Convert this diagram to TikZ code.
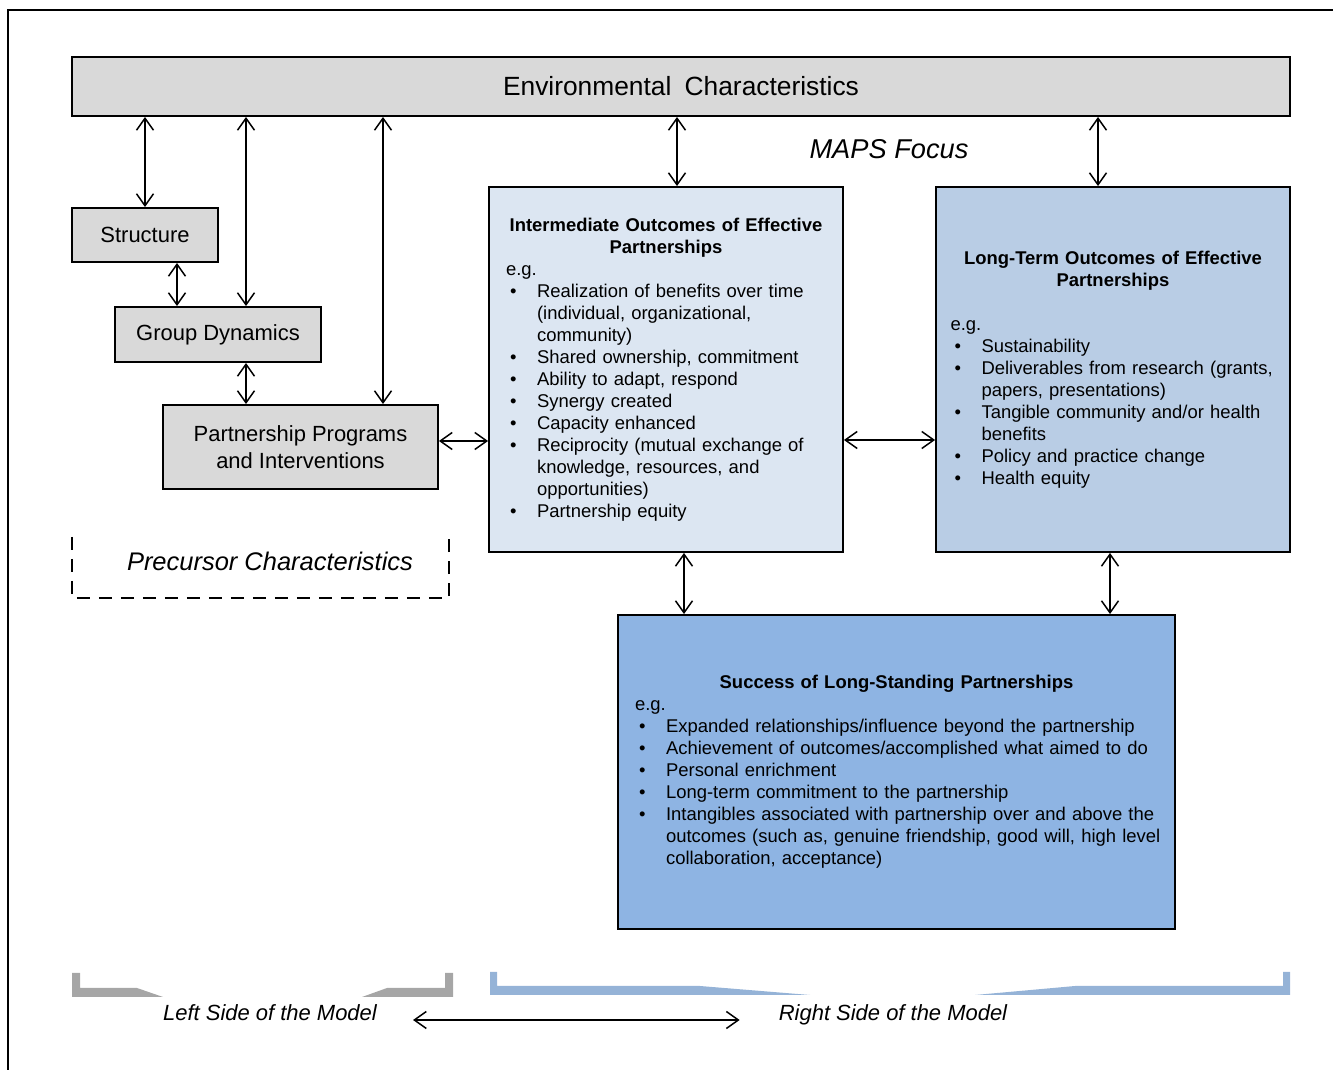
\documentclass[tikz,border=0pt]{standalone}
\usepackage{fontspec}
\setmainfont{Liberation Sans}
\usepackage{xcolor}
\usetikzlibrary{arrows.meta}
\definecolor{bgray}{RGB}{217,217,217}
\definecolor{mblue}{RGB}{220,230,242}
\definecolor{lblue}{RGB}{185,205,229}
\definecolor{sblue}{RGB}{142,180,227}
\definecolor{brgray}{RGB}{166,166,166}
\definecolor{brblue}{RGB}{149,179,215}
\newcommand{\itm}{\par\noindent\hangindent=0.62cm\hangafter=1\makebox[0.62cm][l]{\hspace{0.08cm}\textbullet}}

\begin{document}
\begin{tikzpicture}[x=0.02cm,y=-0.02cm,
  graybox/.style={draw, line width=1.1pt, fill=bgray, align=center,
    font=\fontsize{12.5}{15.3}\selectfont},
  outbox/.style={draw, line width=1.1pt, align=left, inner sep=0pt,
    font=\fontsize{10.5}{12.5}\selectfont},
  biarrow/.style={{Straight Barb[length=2.4mm,width=3.4mm]}-{Straight Barb[length=2.4mm,width=3.4mm]}, line width=0.85pt},
  sidelabel/.style={font=\fontsize{12.5}{15}\selectfont\itshape}]
\useasboundingbox (0,0) rectangle (1333,1070);
\draw[line width=1.1pt] (8,1070) -- (8,10) -- (1333,10);

% top bar
\node[graybox, minimum width=24.36cm, minimum height=1.18cm,
  font=\fontsize{15}{18}\selectfont] (env) at (681,86.5) {Environmental\enspace Characteristics};
\node[font=\fontsize{15.5}{18}\selectfont\itshape] (maps) at (889,149) {MAPS Focus};

% left side
\node[graybox, minimum width=2.92cm, minimum height=1.08cm] (str) at (145,235) {Structure};
\node[graybox, minimum width=4.12cm, minimum height=1.1cm] (gd) at (218,334.5) {Group Dynamics};
\node[graybox, minimum width=5.5cm, minimum height=1.68cm] (pp) at (300.5,447) {Partnership Programs\\and Interventions};
\node[font=\fontsize{14.5}{17}\selectfont\itshape] (prec) at (270,561) {Precursor Characteristics};
\draw[line width=1.1pt, dash pattern=on 0.26cm off 0.18cm] (72,537) -- (72,598) -- (449,598) -- (449,537);

% right side
\node[outbox, fill=mblue, minimum width=7.08cm, minimum height=7.3cm, text width=6.4cm] (inter) at (666,369.5) {%
{\centering\bfseries Intermediate Outcomes of Effective\\Partnerships\par}
e.g.
\itm Realization of benefits over time\newline(individual, organizational,\newline community)
\itm Shared ownership, commitment
\itm Ability to adapt, respond
\itm Synergy created
\itm Capacity enhanced
\itm Reciprocity (mutual exchange of\newline knowledge, resources, and\newline opportunities)
\itm Partnership equity\par};

\node[outbox, fill=lblue, minimum width=7.08cm, minimum height=7.3cm, text width=6.5cm] (lt) at (1113,369.5) {%
{\centering\bfseries Long-Term Outcomes of Effective\\Partnerships\par}
\vspace{\baselineskip}
e.g.
\itm Sustainability
\itm Deliverables from research (grants,\newline papers, presentations)
\itm Tangible community and/or health\newline benefits
\itm Policy and practice change
\itm Health equity\par};

\node[outbox, fill=sblue, minimum width=11.14cm, minimum height=6.28cm, text width=10.46cm] (succ) at (896.5,772) {%
\hfuzz=20pt
{\centering\bfseries Success of Long-Standing Partnerships\par}
e.g.
\itm Expanded relationships/influence beyond the partnership
\itm Achievement of outcomes/accomplished what aimed to do
\itm Personal enrichment
\itm Long-term commitment to the partnership
\itm Intangibles associated with partnership over and above the\newline\mbox{outcomes (such as, genuine friendship, good will, high level}\newline collaboration, acceptance)\par};

% connectors
\draw[biarrow] (env.south -| str.north) -- (str.north);
\draw[biarrow] (env.south -| 246,0) -- (gd.north -| 246,0);
\draw[biarrow] (env.south -| 383,0) -- (pp.north -| 383,0);
\draw[biarrow] (str.south -| 177,0) -- (gd.north -| 177,0);
\draw[biarrow] (gd.south -| 246,0) -- (pp.north -| 246,0);
\draw[biarrow] (pp.east |- 0,441) -- (inter.west |- 0,441);
\draw[biarrow] (env.south -| 677,0) -- (inter.north -| 677,0);
\draw[biarrow] (env.south -| 1098,0) -- (lt.north -| 1098,0);
\draw[biarrow] (inter.east |- 0,440) -- (lt.west |- 0,440);
\draw[biarrow] (inter.south -| 684,0) -- (succ.north -| 684,0);
\draw[biarrow] (lt.south -| 1110,0) -- (succ.north -| 1110,0);

% bottom brackets
\fill[brgray] (72,973) -- (80,973) -- (80,988) -- (137,988) -- (163,997) -- (72,997) -- cycle;
\fill[brgray] (362,997) -- (387,988) -- (445,988) -- (445,973) -- (453,973) -- (453,997) -- cycle;
\fill[brblue] (490,972) -- (497,972) -- (497,986) -- (700,986) -- (810,995) -- (490,995) -- cycle;
\fill[brblue] (975,995) -- (1075,986) -- (1283,986) -- (1283,972) -- (1290,972) -- (1290,995) -- cycle;
\node[sidelabel] (lside) at (270,1013) {Left Side of the Model};
\node[sidelabel] (rside) at (893,1015) {Right Side of the Model};
\draw[biarrow, shorten <=0.6cm, shorten >=0.66cm] (lside.east |- 0,1020) -- (rside.west |- 0,1020);
\end{tikzpicture}
\end{document}
